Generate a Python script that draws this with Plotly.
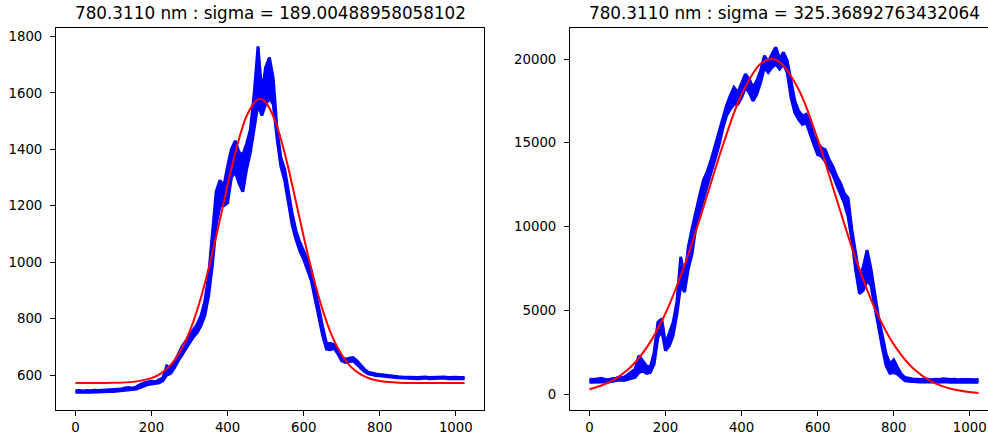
import plotly.graph_objects as go

# ---------------- data ----------------
pix_x = list(range(0, 1021, 10)) + [1023]

left_blue_upper = [
    544, 545, 543, 545, 544, 546, 545, 546, 547, 546,
    548, 549, 550, 554, 556, 553, 558, 566, 572, 575,
    578, 576, 582, 590, 632, 625, 645, 672, 700, 720,
    740, 760, 780, 810, 860, 950, 1100, 1250, 1290, 1270,
    1340, 1400, 1430, 1390, 1380, 1420, 1470, 1600, 1765, 1600,
    1690, 1725, 1650, 1470, 1370, 1330, 1250, 1170, 1110, 1070,
    1040, 1010, 970, 900, 840, 770, 712, 712, 708, 690,
    665, 655, 660, 662, 650, 635, 620, 610, 606, 604,
    602, 600, 598, 597, 596, 594, 593, 592, 593, 592,
    591, 592, 593, 591, 592, 591, 592, 593, 591, 592,
    592, 591, 592, 591]
left_blue_lower = [
    539, 540, 539, 540, 539, 540, 541, 540, 541, 542,
    542, 543, 544, 546, 548, 547, 550, 555, 562, 566,
    568, 569, 572, 580, 600, 605, 625, 650, 672, 695,
    715, 735, 750, 775, 810, 880, 990, 1130, 1200, 1200,
    1210, 1300, 1320, 1280, 1250, 1330, 1390, 1470, 1560, 1520,
    1560, 1580, 1560, 1440, 1340, 1290, 1210, 1130, 1080, 1040,
    1010, 975, 935, 870, 805, 740, 692, 690, 695, 675,
    650, 645, 648, 650, 638, 625, 612, 604, 600, 598,
    597, 595, 594, 592, 591, 590, 589, 588, 589, 588,
    587, 588, 589, 587, 588, 587, 588, 589, 587, 588,
    588, 587, 588, 587]

right_blue_upper = [
    900, 880, 910, 950, 900, 870, 930, 960, 1050, 1000,
    1150, 1300, 1500, 2300, 2000, 1700, 1600, 2500, 4300, 4500,
    3000, 3600, 4300, 5500, 8200, 6900, 8800, 9900, 11000, 11900,
    12800, 13300, 14000, 14800, 15600, 16500, 17200, 17800, 18300, 18000,
    18500, 19100, 18800, 18300, 18700, 19300, 20200, 19800, 20300, 20700,
    20000, 20400, 19900, 18700, 17500, 16900, 16600, 16700, 16200, 15400,
    15000, 14700, 14600, 14000, 13600, 13000, 12600, 12000, 11700, 9800,
    8500, 7000, 7600, 8600, 7500, 6000, 4600, 3500, 2400, 1800,
    2050, 1600, 1200, 1000, 950, 920, 900, 880, 910, 890,
    870, 900, 880, 920, 890, 880, 900, 870, 890, 900,
    880, 870, 890, 880]
right_blue_lower = [
    720, 730, 740, 760, 740, 730, 760, 790, 850, 830,
    900, 950, 1000, 1300, 1400, 1250, 1300, 1800, 3400, 3800,
    2600, 2900, 3500, 4800, 6500, 6100, 7500, 8400, 10000, 10900,
    11700, 12500, 13300, 14000, 14800, 15800, 16600, 17000, 17300, 17300,
    17700, 18300, 18000, 17500, 17900, 18600, 19500, 19200, 19500, 19700,
    19400, 19700, 19200, 17700, 16800, 16400, 16100, 16200, 15500, 14900,
    14300, 14200, 13900, 13500, 13100, 12500, 11900, 11400, 10600, 9200,
    7400, 6000, 6200, 6800, 6500, 5200, 3900, 2800, 1700, 1250,
    1300, 1200, 1000, 800, 780, 760, 740, 730, 750, 720,
    730, 740, 720, 750, 730, 720, 740, 730, 720, 740,
    730, 720, 730, 720]

left_fit_x = [0, 50, 100, 150, 200, 225, 250, 275, 300, 325, 350, 375, 400, 425,
              450, 475, 485, 500, 525, 550, 575, 600, 625, 650, 675, 700, 725,
              750, 775, 800, 850, 900, 950, 1023]
left_fit_y = [572, 572, 572.6, 575.7, 589, 606, 635, 683, 754, 852, 976, 1121, 1273, 1412,
              1518, 1573, 1578, 1567, 1501, 1387, 1243, 1091, 949, 830, 737, 672, 628,
              602, 587, 579, 573, 572, 572, 572]

right_fit_x = [0, 50, 100, 150, 200, 250, 300, 350, 400, 450, 478, 500, 550, 600,
               650, 700, 750, 800, 850, 900, 950, 1000, 1023]
right_fit_y = [301, 692, 1450, 2772, 4838, 7698, 11178, 14804, 17886, 19714, 20000,
               19823, 18184, 15217, 11616, 8090, 5140, 2980, 1574, 760, 334, 134, 85]

left_title = "780.3110 nm : sigma = 189.00488958058102"
right_title = "780.3110 nm : sigma = 325.36892763432064"

x_ticks = [0, 200, 400, 600, 800, 1000]
x_tick_text = ["0", "200", "400", "600", "800", "1000"]
left_y_ticks = [600, 800, 1000, 1200, 1400, 1600, 1800]
left_y_tick_text = ["600", "800", "1000", "1200", "1400", "1600", "1800"]
right_y_ticks = [0, 5000, 10000, 15000, 20000]
right_y_tick_text = ["0", "5000", "10000", "15000", "20000"]

# ---------------- figure ----------------
W, H = 988, 434
BLUE = "#0000ff"
RED = "#ff0000"
FONT = "DejaVu Sans, Verdana, sans-serif"

fig = go.Figure()


def add_band(upper, lower, xa, ya):
    fig.add_trace(go.Scatter(x=pix_x, y=upper, mode="lines", xaxis=xa, yaxis=ya,
                             line=dict(color=BLUE, width=3), hoverinfo="skip"))
    fig.add_trace(go.Scatter(x=pix_x, y=lower, mode="lines", xaxis=xa, yaxis=ya,
                             line=dict(color=BLUE, width=3), fill="tonexty",
                             fillcolor=BLUE, hoverinfo="skip"))


add_band(left_blue_upper, left_blue_lower, "x", "y")
fig.add_trace(go.Scatter(x=left_fit_x, y=left_fit_y, mode="lines", xaxis="x", yaxis="y",
                         line=dict(color=RED, width=2, shape="spline"), hoverinfo="skip"))
add_band(right_blue_upper, right_blue_lower, "x2", "y2")
fig.add_trace(go.Scatter(x=right_fit_x, y=right_fit_y, mode="lines", xaxis="x2", yaxis="y2",
                         line=dict(color=RED, width=2, shape="spline"), hoverinfo="skip"))

top = 1 - 28 / H
bottom = 1 - 410 / H

axis_common = dict(showgrid=False, zeroline=False, showline=True, linecolor="black",
                   linewidth=1, ticks="outside", ticklen=5, tickwidth=1, tickcolor="black",
                   tickfont=dict(family=FONT, size=13.3, color="black"))

fig.update_layout(
    width=W, height=H,
    margin=dict(l=0, r=0, t=0, b=0),
    paper_bgcolor="white", plot_bgcolor="white",
    font=dict(family=FONT, size=13.3, color="black"),
    showlegend=False,
    xaxis=dict(domain=[56 / W, 484 / W], range=[-51.15, 1074.15], anchor="y",
               tickvals=x_ticks, ticktext=x_tick_text, mirror=True, **axis_common),
    yaxis=dict(domain=[bottom, top], range=[476, 1830], anchor="x",
               tickvals=left_y_ticks, ticktext=left_y_tick_text, mirror=True,
               ticklabelstandoff=5, **axis_common),
    xaxis2=dict(domain=[570 / W, 1.0], range=[-51.15, 1047.9], anchor="y2",
                tickvals=x_ticks, ticktext=x_tick_text, mirror=True, **axis_common),
    yaxis2=dict(domain=[bottom, top], range=[-936, 21849], anchor="x2",
                tickvals=right_y_ticks, ticktext=right_y_tick_text, mirror=False,
                ticklabelstandoff=5, **axis_common),
    annotations=[
        dict(text=left_title, xref="paper", yref="paper", x=(56 + 484) / 2 / W, y=top,
             xanchor="center", yanchor="bottom", yshift=3, showarrow=False,
             font=dict(family=FONT, size=16.8, color="black")),
        dict(text=right_title, xref="paper", yref="paper", x=(570 + 998) / 2 / W, y=top,
             xanchor="center", yanchor="bottom", yshift=3, showarrow=False,
             font=dict(family=FONT, size=16.8, color="black")),
    ],
)

fig.write_html("out.html")
